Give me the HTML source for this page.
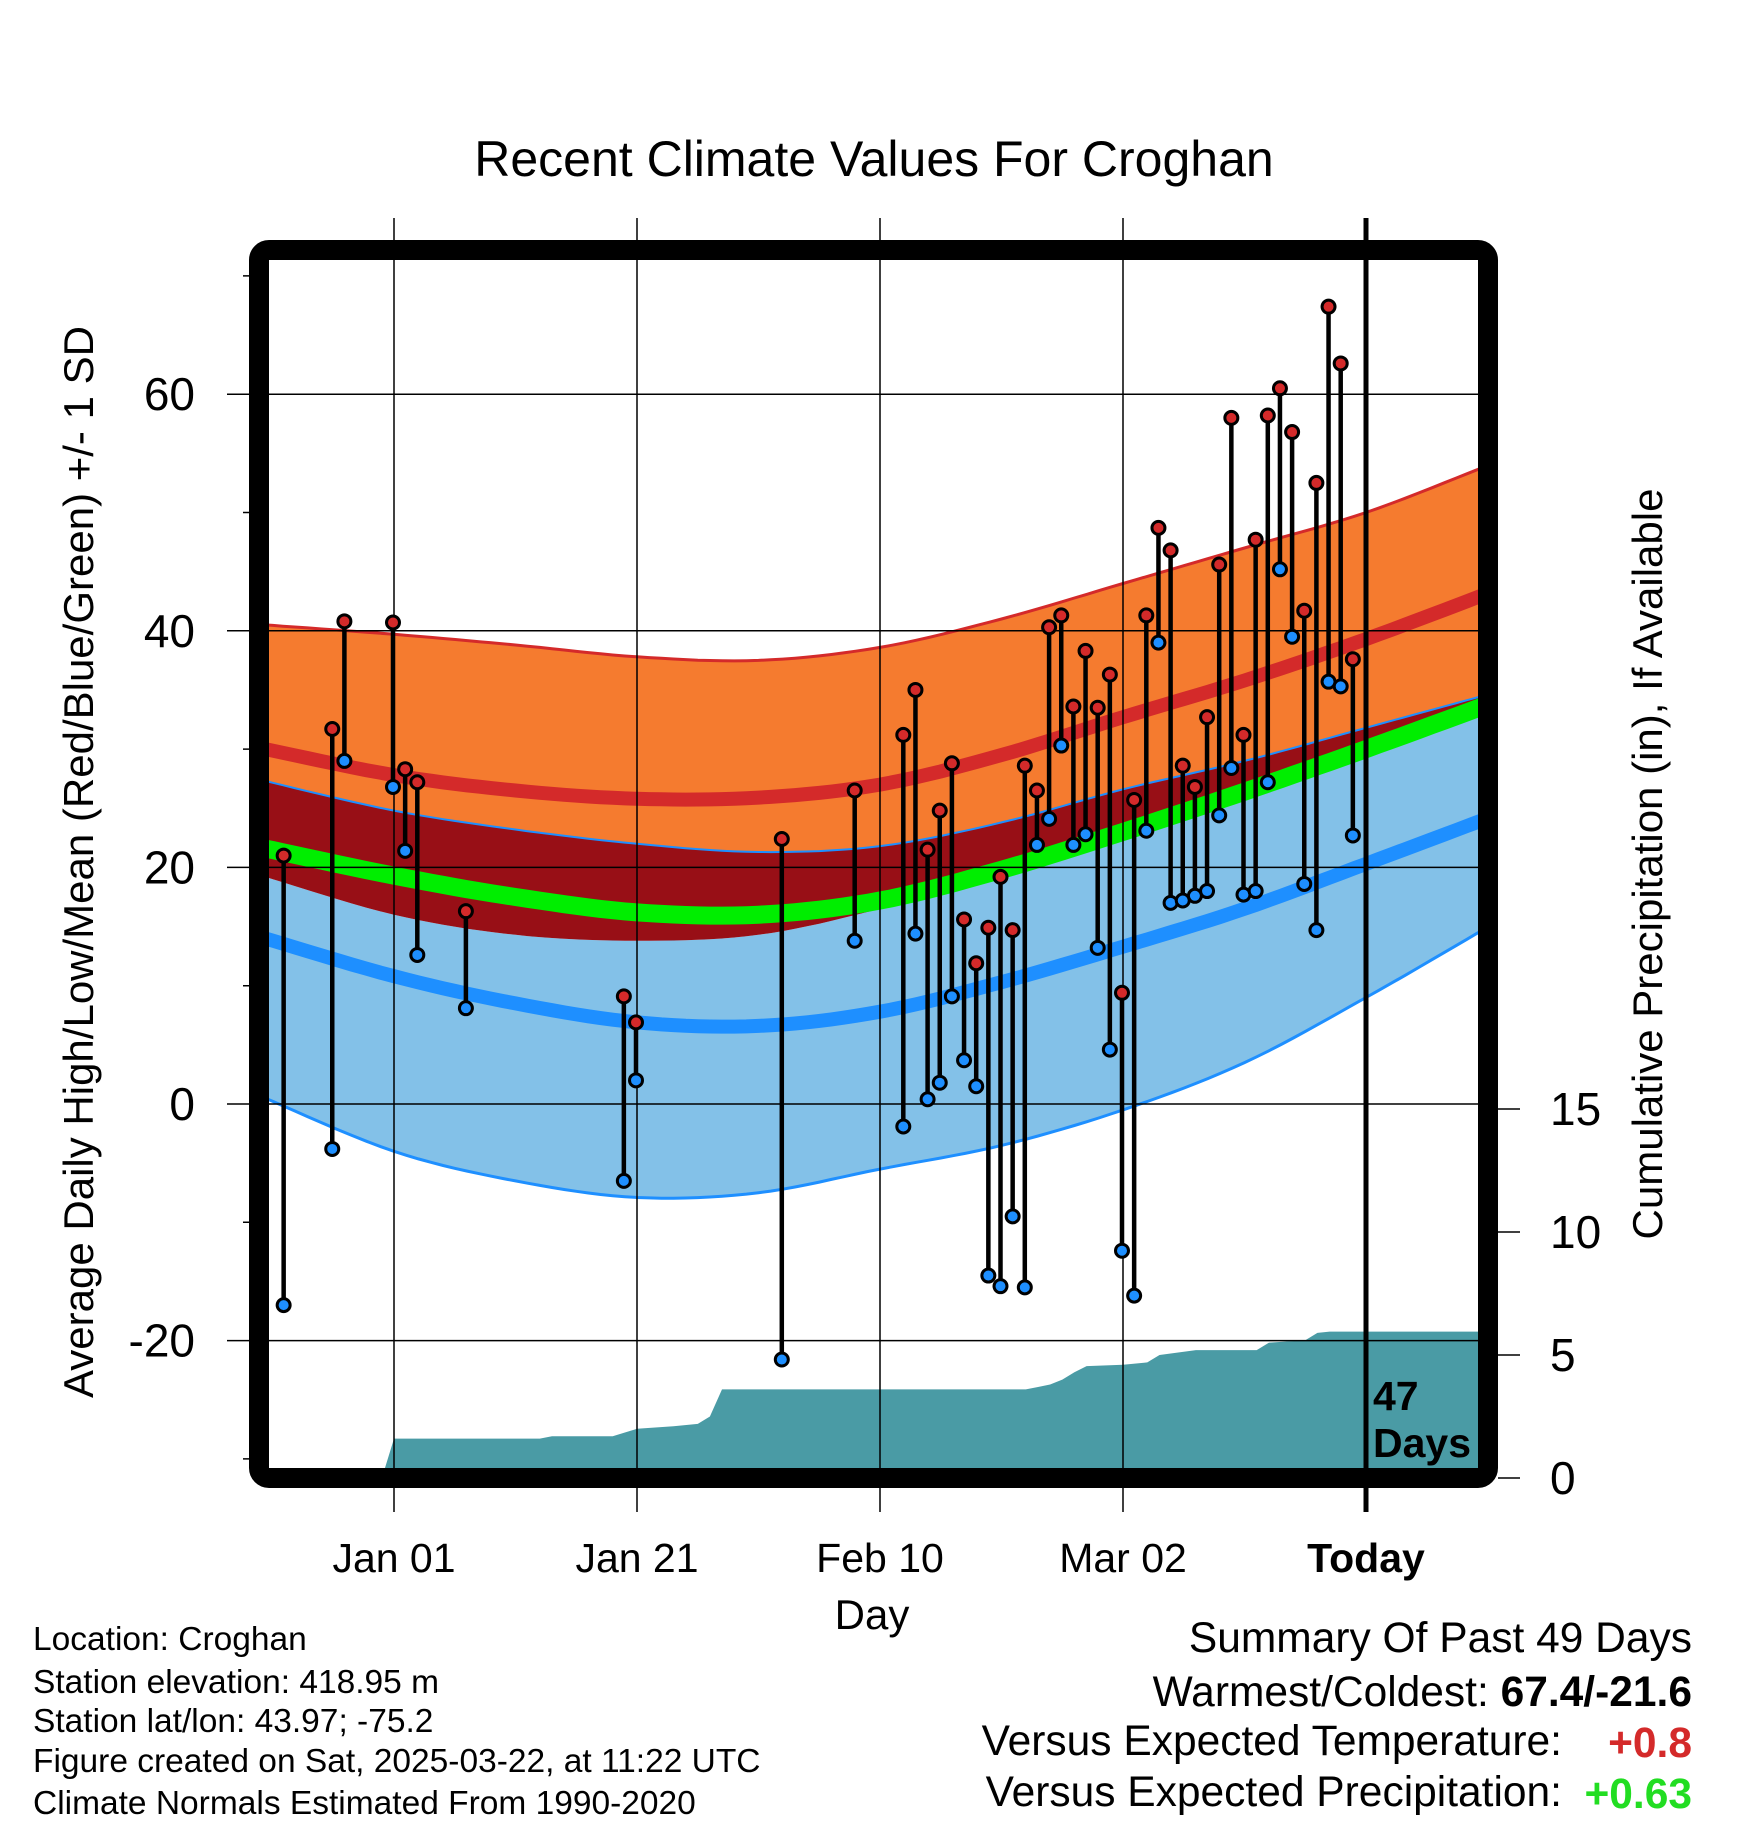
<!DOCTYPE html>
<html><head><meta charset="utf-8"><style>
html,body{margin:0;padding:0;background:#fff;}
svg{display:block;font-family:"Liberation Sans",sans-serif;}
</style></head><body>
<svg id="chart" width="1748" height="1828" viewBox="0 0 1748 1828">
<defs><clipPath id="pc"><rect x="269" y="260" width="1209" height="1208"/></clipPath></defs>
<text x="874" y="176" font-size="50" text-anchor="middle">Recent Climate Values For Croghan</text>
<g id="grid"></g>
<g id="bands" clip-path="url(#pc)"></g>
<g id="precip" clip-path="url(#pc)"></g>
<g id="gridIn"></g>
<g id="obs"></g>
<rect x="259" y="250" width="1229" height="1228" rx="10" fill="none" stroke="#000" stroke-width="20"/>
<g id="axes"></g>
<text transform="translate(93,862) rotate(-90)" font-size="42" text-anchor="middle">Average Daily High/Low/Mean (Red/Blue/Green) +/- 1 SD</text>
<text transform="translate(1662,864) rotate(-90)" font-size="42" text-anchor="middle">Cumulative Precipitation (in), If Available</text>
<text x="872" y="1629" font-size="42" text-anchor="middle">Day</text>
<text x="1373" y="1410" font-size="41" font-weight="bold">47</text>
<text x="1373" y="1457" font-size="41" font-weight="bold">Days</text>
<g font-size="33.5">
<text x="33" y="1650">Location: Croghan</text>
<text x="33" y="1693">Station elevation: 418.95 m</text>
<text x="33" y="1732">Station lat/lon: 43.97; -75.2</text>
<text x="33" y="1772">Figure created on Sat, 2025-03-22, at 11:22 UTC</text>
<text x="33" y="1814">Climate Normals Estimated From 1990-2020</text>
</g>
<g font-size="42.5" text-anchor="end">
<text x="1692" y="1652">Summary Of Past 49 Days</text>
<text x="1692" y="1706">Warmest/Coldest: <tspan font-weight="bold">67.4/-21.6</tspan></text>
<text x="1562" y="1755">Versus Expected Temperature:</text>
<text x="1692" y="1757" font-weight="bold" fill="#d42a2a">+0.8</text>
<text x="1562" y="1806">Versus Expected Precipitation:</text>
<text x="1692" y="1808" font-weight="bold" fill="#22dd22">+0.63</text>
</g>
</svg>
<script>
const obsDays=[-9,-5,-4,0,1,2,6,19,20,32,38,42,43,44,45,46,47,48,49,50,51,52,53,54,55,56,57,58,59,60,61,62,63,64,65,66,67,68,69,70,71,72,73,74,75,76,77,78,79];
const highs=[21,31.7,40.8,40.7,28.3,27.2,16.3,9.1,6.9,22.4,26.5,31.2,35.0,21.5,24.8,28.8,15.6,11.9,14.9,19.2,14.7,28.6,26.5,40.3,41.3,33.6,38.3,33.5,36.3,9.4,25.7,41.3,48.7,46.8,28.6,26.8,32.7,45.6,58.0,31.2,47.7,58.2,60.5,56.8,41.7,52.5,67.4,62.6,37.6];
const lows=[-17,-3.8,29,26.8,21.4,12.6,8.1,-6.5,2.0,-21.6,13.8,-1.9,14.4,0.4,1.8,9.1,3.7,1.5,-14.5,-15.4,-9.5,-15.5,21.9,24.1,30.3,21.9,22.8,13.2,4.6,-12.4,-16.2,23.1,39.0,17.0,17.2,17.6,18.0,24.4,28.4,17.7,18.0,27.2,45.2,39.5,18.6,14.7,35.7,35.3,22.7];
const normDays=[-10.6,0,10,20,30,40,50,60,70,80,89.6];
const highPlusSD=[40.5,39.7,38.8,37.8,37.5,38.6,41,44,47,50,53.8];
const normHigh=[30,27.8,26.5,25.8,25.9,27,29.5,32.7,35.8,39.3,43];
const highMinusSD=[27.3,24.8,23.2,22,21.3,21.8,23.8,26.6,29,31.8,34.5];
const normMean=[21.6,19.3,17.5,16.2,16,17.2,19.8,23,26.4,30,33.6];
const lowPlusSD=[19.2,16,14.3,13.8,14.3,16.5,19.5,22.5,26,29.5,33];
const normLow=[14,10.8,8.5,6.9,6.6,7.8,10.3,13.3,16.5,20.3,24];
const lowMinusSD=[0.5,-4,-6.5,-7.9,-7.5,-5.5,-3.5,-0.5,3.5,9,14.7];
const precipDays=[-11,-1,0,12,13,18,19,20,23,25,26,27,52,53,54,55,56,57,60,62,63,66,71,72,75,76,77,90];
const precipVals=[0,0,1.6,1.6,1.7,1.7,1.85,2.0,2.1,2.2,2.5,3.6,3.6,3.7,3.8,4.0,4.3,4.55,4.6,4.7,5.0,5.2,5.2,5.5,5.6,5.9,5.95,5.95];
const yTicks=[-20,0,20,40,60];
const yMinor=[-30,-10,10,30,50,70];
const pTicks=[0,5,10,15];
const xTickDays=[0,20,40,60,80];
const xTickLabels=["Jan 01","Jan 21","Feb 10","Mar 02","Today"];

const NS="http://www.w3.org/2000/svg";
const X=d=>394+12.15*d;
const Y=t=>1104-11.83*t;
const P=p=>1478-24.6*p;
function mk(parent,tag,attrs){const e=document.createElementNS(NS,tag);for(const k in attrs)e.setAttribute(k,attrs[k]);document.getElementById(parent).appendChild(e);return e;}
function smooth(xs,ys){
  const pts=[];for(let i=0;i<xs.length-1;i++){const x0=xs[Math.max(i-1,0)],x1=xs[i],x2=xs[i+1],x3=xs[Math.min(i+2,xs.length-1)];const y0=ys[Math.max(i-1,0)],y1=ys[i],y2=ys[i+1],y3=ys[Math.min(i+2,ys.length-1)];
  for(let s=0;s<10;s++){const t=s/10,t2=t*t,t3=t2*t;const f=(a,b,c,d)=>0.5*(2*b+(-a+c)*t+(2*a-5*b+4*c-d)*t2+(-a+3*b-3*c+d)*t3);pts.push([X(f(x0,x1,x2,x3)),Y(f(y0,y1,y2,y3))]);}}
  pts.push([X(xs[xs.length-1]),Y(ys[ys.length-1])]);return pts;}
const ps=a=>a.map(p=>p[0].toFixed(1)+","+p[1].toFixed(1)).join(" ");
function band(top,bot,fill,name){const a=smooth(normDays,top),b=smooth(normDays,bot).reverse();const e=mk('bands','polygon',{points:ps(a.concat(b)),fill:fill});

}
function line(vals,col,w,name){const e=mk('bands','polyline',{points:ps(smooth(normDays,vals)),fill:'none',stroke:col,'stroke-width':w});

}
band(highPlusSD,highMinusSD,'#f57b2f','high-sd-band');
line(highPlusSD,'#d42a2a',3,'high-plus-sd-line');
band(lowPlusSD,lowMinusSD,'#83c1e8','low-sd-band');
const darkTop=highMinusSD.map((v,i)=>Math.max(v,lowPlusSD[i]));
band(darkTop,lowPlusSD,'#980f16','overlap-band');
line(highMinusSD,'#1e8fff',2,'high-minus-sd-line');
line(lowMinusSD,'#1e8fff',3,'low-minus-sd-line');
line(normHigh,'#d42a2a',14,'normal-high-line');
line(normLow,'#1e8fff',14,'normal-low-line');
line(normMean,'#00ee00',18,'normal-mean-line');
let pp=[];for(let i=0;i<precipDays.length;i++){pp.push([X(precipDays[i]),P(precipVals[i])]);}
pp.push([X(90),1500]);pp.push([X(-11),1500]);
const pa=mk('precip','polygon',{points:ps(pp),fill:'#4a9ba5'});


yTicks.forEach(t=>{const g=mk('gridIn','line',{x1:227,x2:1478,y1:Y(t),y2:Y(t),stroke:'#000','stroke-width':1.5});


const l=mk('axes','text',{x:195,y:Y(t)+16,'font-size':46,'text-anchor':'end'});l.textContent=t;

});
yMinor.forEach(t=>{const g=mk('axes','line',{x1:243,x2:260,y1:Y(t),y2:Y(t),stroke:'#000','stroke-width':1.5});

});
xTickDays.forEach((d,i)=>{const g=mk('gridIn','line',{x1:X(d),x2:X(d),y1:218,y2:1512,stroke:'#000','stroke-width':i==4?5:1.5});


const l=mk('axes','text',{x:X(d),y:1572,'font-size':41,'text-anchor':'middle'});l.textContent=xTickLabels[i];if(i==4)l.setAttribute('font-weight','bold');

});
pTicks.forEach(p=>{const g=mk('axes','line',{x1:1498,x2:1520,y1:P(p),y2:P(p),stroke:'#000','stroke-width':1.5});


const l=mk('axes','text',{x:1550,y:P(p)+16,'font-size':46});l.textContent=p;

});
obsDays.forEach((d,i)=>{const x=X(d)-1;
const s=mk('obs','line',{x1:x,x2:x,y1:Y(highs[i]),y2:Y(lows[i]),stroke:'#000','stroke-width':4.5});


const h=mk('obs','circle',{cx:x,cy:Y(highs[i]),r:6.5,fill:'#d42a2a',stroke:'#000','stroke-width':3});


const lo=mk('obs','circle',{cx:x,cy:Y(lows[i]),r:6.5,fill:'#1e8fff',stroke:'#000','stroke-width':3});

});
</script>
</body></html>
